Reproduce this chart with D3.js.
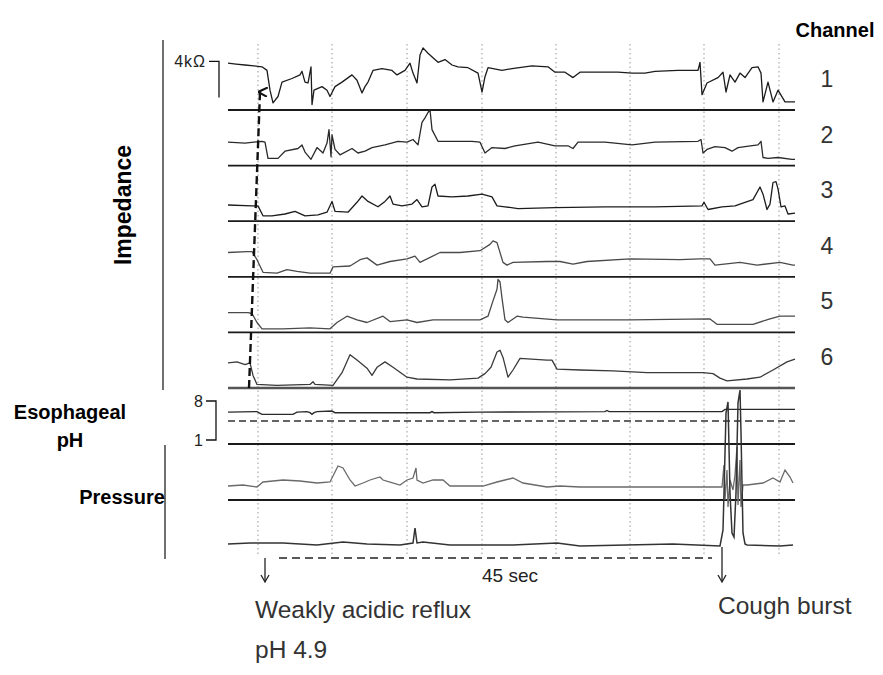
<!DOCTYPE html>
<html><head><meta charset="utf-8">
<script src="https://cdn.jsdelivr.net/npm/d3@7/dist/d3.min.js"></script>
<style>body{margin:0;background:#fff}svg{display:block;font-family:"Liberation Sans",Arial,sans-serif}</style>
</head><body><svg id="c" width="883" height="675"></svg>
<script>
// ---- data (time in seconds, impedance in kΩ, pH units, pressure in mmHg) ----
const channels = ["1","2","3","4","5","6"];
const timeExtent = [0, 56.7];
const gridTimes = [3.0, 10.4, 17.9, 25.4, 32.8, 40.2, 47.6, 55.1];
const refluxTime = 3.7, coughTime = 49.4;
const intervalLabel = "45 sec";
const scaleBarKOhm = 4, scaleBarBase = 1.4;
const phTicks = [8, 1];
const phRefLine = 4.4;

const imp1 = [[0,5.2],[0.8,5.1],[1.7,5.0],[2.6,4.9],[3.4,4.8],[3.9,4.4],[4.2,2.2],[4.5,0.8],[5.0,1.5],[5.4,3.1],[6.4,3.5],[7.2,3.9],[7.4,4.3],[7.7,3.1],[8.0,3.0],[8.3,4.8],[8.4,0.6],[8.6,2.2],[9.4,2.6],[9.9,2.2],[10.2,1.5],[10.7,2.6],[11.4,3.1],[12.4,3.9],[12.9,3.3],[13.4,1.9],[13.7,2.6],[14.0,3.1],[14.5,4.4],[15.4,4.6],[16.4,4.4],[16.9,3.9],[17.7,4.4],[18.2,5.2],[18.5,4.1],[18.9,3.0],[19.2,6.1],[19.5,6.9],[20.0,6.3],[20.5,5.8],[21.0,5.3],[21.7,5.6],[22.4,5.0],[23.0,4.8],[24.0,4.7],[25.0,4.1],[25.4,2.0],[25.7,3.7],[26.0,4.7],[27.4,4.4],[28.4,4.6],[30.4,4.9],[32.0,4.8],[32.7,4.2],[33.7,4.2],[34.5,3.6],[35.2,4.2],[37.0,4.2],[39.0,4.2],[40.4,4.1],[41.7,4.1],[42.7,4.3],[45.0,4.4],[47.0,4.4],[47.2,5.3],[47.4,1.7],[47.9,3.0],[49.0,3.6],[49.5,4.2],[49.8,2.0],[50.2,3.9],[50.7,3.1],[51.2,4.1],[51.7,3.6],[52.4,4.7],[53.0,4.8],[53.3,4.1],[53.5,0.9],[54.0,3.1],[54.5,0.9],[55.0,2.2],[55.7,0.9],[56.7,0.9]];
const imp2 = [[0,2.6],[1.7,2.5],[3.4,2.7],[3.7,2.6],[4.0,0.8],[5.0,0.8],[5.7,1.6],[7.0,1.9],[7.4,2.3],[7.7,1.5],[8.3,0.7],[8.9,2.0],[9.5,1.4],[9.9,2.5],[10.1,4.0],[10.3,1.0],[10.4,3.4],[10.7,1.8],[11.2,1.2],[12.4,1.9],[13.0,1.4],[13.7,1.6],[14.4,2.0],[15.7,2.3],[17.0,2.7],[17.9,2.6],[18.5,2.9],[19.0,2.3],[19.4,4.8],[19.7,5.3],[20.0,5.9],[20.2,6.2],[20.4,4.0],[21.0,2.7],[22.4,2.7],[24.4,2.7],[25.2,2.6],[25.7,1.4],[26.4,2.0],[27.7,1.9],[28.7,2.2],[31.0,2.6],[32.7,2.2],[34.0,2.2],[34.5,1.9],[35.0,2.6],[37.7,2.6],[40.4,2.3],[42.7,2.6],[47.0,2.7],[47.3,2.9],[47.5,1.4],[47.9,1.8],[48.7,2.1],[49.7,2.0],[50.4,1.6],[51.0,2.0],[51.7,2.1],[53.0,2.3],[53.3,2.7],[53.5,0.9],[54.0,0.8],[55.0,0.9],[56.4,0.7],[56.7,0.7]];
const imp3 = [[0,1.8],[2.4,1.7],[3.0,1.7],[3.5,0.6],[4.4,0.6],[5.7,0.8],[6.7,1.1],[7.7,0.6],[9.0,0.7],[9.9,1.0],[10.4,2.2],[10.7,1.1],[12.0,1.0],[12.9,2.1],[13.4,2.8],[14.0,2.2],[15.0,1.6],[15.7,2.2],[16.2,2.8],[16.5,1.9],[17.4,1.7],[18.4,1.9],[18.9,2.4],[19.4,1.6],[20.0,1.7],[20.4,3.8],[20.7,4.1],[21.0,2.8],[22.4,2.7],[24.0,2.8],[25.4,3.0],[26.4,2.7],[26.9,1.7],[27.7,1.6],[29.0,1.4],[32.7,1.5],[37.7,1.6],[42.7,1.6],[47.4,1.7],[47.6,2.1],[48.0,1.3],[49.4,1.6],[50.7,1.7],[51.7,2.1],[52.5,2.4],[53.2,3.8],[53.5,3.0],[53.9,1.3],[54.2,1.9],[54.5,4.3],[54.8,4.4],[55.0,3.6],[55.3,1.6],[55.7,1.7],[56.0,0.8],[56.7,0.9]];
const imp4 = [[0,2.7],[1.9,2.8],[2.4,2.8],[2.9,1.9],[3.5,0.5],[4.9,0.4],[5.9,0.8],[6.9,0.6],[8.2,0.4],[10.2,0.4],[10.5,1.1],[12.2,1.2],[13.2,1.9],[13.9,2.1],[14.9,1.3],[16.2,1.7],[17.9,2.0],[18.7,2.3],[19.2,1.6],[21.2,2.7],[23.2,2.7],[25.2,2.9],[26.2,3.6],[26.5,4.0],[26.9,3.8],[27.5,1.6],[27.9,1.3],[28.5,1.6],[31.9,1.7],[33.2,1.7],[34.5,1.4],[35.9,1.7],[40.2,2.0],[45.2,1.9],[47.2,2.0],[48.2,2.0],[48.7,1.3],[51.2,1.6],[52.9,1.3],[55.2,1.6],[56.5,1.3],[56.7,1.3]];
const imp5 = [[0,2.2],[2.0,2.2],[2.4,2.1],[2.9,1.1],[3.4,0.4],[5.5,0.4],[8.2,0.5],[10.2,0.4],[10.9,1.1],[11.9,1.8],[12.9,1.4],[13.9,1.1],[15.5,1.8],[16.2,1.2],[17.9,1.4],[18.9,1.1],[20.5,1.4],[23.9,1.4],[25.2,1.4],[26.0,1.8],[26.5,3.5],[26.9,4.8],[27.0,5.9],[27.2,5.6],[27.4,3.8],[27.7,1.4],[28.0,1.1],[28.9,1.8],[29.5,1.7],[32.9,1.4],[40.2,1.4],[48.2,1.5],[48.9,0.9],[52.5,0.9],[54.2,1.5],[55.2,1.8],[56.5,1.8],[56.7,1.8]];
const imp6 = [[0,2.8],[0.9,2.9],[1.7,2.6],[2.2,2.8],[2.5,1.4],[2.9,0.4],[4.9,0.3],[8.2,0.4],[8.5,0.7],[8.7,0.4],[10.5,0.3],[11.4,1.7],[12.2,3.7],[12.9,3.1],[13.9,2.2],[14.4,1.4],[14.9,2.3],[15.7,2.9],[16.5,2.3],[17.9,1.2],[18.9,1.0],[22.2,0.9],[25.0,1.1],[25.7,1.6],[26.3,2.3],[26.9,4.0],[27.2,4.2],[27.5,3.4],[28.0,1.2],[28.5,2.0],[29.2,3.3],[31.9,3.1],[32.4,3.1],[32.9,2.1],[35.2,2.0],[38.5,1.9],[41.9,1.7],[47.5,1.7],[48.5,1.6],[49.2,1.1],[49.9,0.8],[51.9,1.0],[53.2,1.2],[54.5,2.0],[55.9,2.9],[56.7,3.2]];
const impedance = [imp1, imp2, imp3, imp4, imp5, imp6];
const phTrace = [[0,6.0],[2.9,6.1],[3.4,5.6],[6.5,5.6],[6.9,6.0],[7.9,6.1],[8.2,5.9],[8.4,5.6],[8.6,5.9],[8.9,6.1],[10.4,6.2],[10.7,5.9],[20.2,5.9],[20.4,6.1],[20.6,5.9],[25.0,6.0],[37.7,6.1],[37.9,6.3],[38.1,6.1],[43.7,6.1],[49.4,6.1],[49.7,6.5],[56.7,6.5]];
const pressure1 = [[0,24],[1.5,25],[2.9,23],[3.5,28],[5.5,30],[7.2,29],[8.9,27],[10.2,28],[11.0,44],[11.5,42],[12.2,30],[12.7,24],[13.5,27],[14.2,30],[15.2,33],[15.5,30],[16.2,28],[17.2,25],[17.9,30],[18.5,32],[18.8,42],[18.9,30],[19.5,27],[20.5,30],[21.5,30],[22.2,24],[25.5,24],[26.9,28],[28.5,32],[29.5,27],[31.9,23],[33.2,24],[35.2,23],[40.2,23],[45.2,23],[49.2,23],[49.4,23],[49.6,45],[49.7,10],[49.9,40],[50.0,3],[50.2,30],[50.5,20],[50.7,35],[50.9,63],[51.0,5],[51.2,50],[51.3,3],[51.5,25],[51.9,25],[53.5,27],[54.5,32],[55.2,28],[55.7,40],[56.2,33],[56.5,27]];
const pressure2 = [[0,9],[2.2,10],[5.5,10],[8.9,8],[11.5,11],[13.9,9],[17.2,8],[18.5,10],[18.7,25],[18.9,10],[19.5,11],[22.2,8],[26.9,8],[28.5,8],[32.9,10],[35.2,7],[44.5,9],[49.2,7],[49.5,23],[49.6,60],[49.8,140],[50.0,151],[50.2,60],[50.4,20],[50.6,16],[50.8,60],[51.0,150],[51.2,163],[51.3,120],[51.5,20],[51.7,9],[51.9,8],[55.2,7],[56.5,8]];

// ---- layout ----
const svg = d3.select("#c");
svg.append("rect").attr("width",883).attr("height",675).attr("fill","#fff");
const x = d3.scaleLinear().domain(timeExtent).range([228, 795]);
const impBase = d3.scaleLinear().domain([0, 5]).range([110, 388]);
const impScales = channels.map((c,i) => { const b = impBase(i); return d3.scaleLinear().domain([0, 6]).range([b, b - 54]); });
const yPh = d3.scaleLinear().domain([1, 8]).range([440, 401]);
const yP1 = d3.scaleLinear().domain([0, 100]).range([510, 410]);
const yP2 = d3.scaleLinear().domain([0, 170]).range([553, 383]);

// grid lines
svg.append("g").selectAll("line").data(gridTimes).join("line")
  .attr("x1", d => x(d)).attr("x2", d => x(d)).attr("y1", 44).attr("y2", 556)
  .attr("stroke", "#a8a8a8").attr("stroke-width", 1.2).attr("stroke-dasharray", "1.5,3");

// baselines
const hline = (y, opts={}) => svg.append("line").attr("x1", x(timeExtent[0])).attr("x2", x(timeExtent[1]))
  .attr("y1", y).attr("y2", y).attr("stroke", opts.c || "#1a1a1a").attr("stroke-width", opts.w || 1.8)
  .attr("stroke-dasharray", opts.d || null);
channels.forEach((c,i) => hline(impBase(i), i === 5 ? {c:"#555", w:2.4} : {}));
hline(yPh(phRefLine), {d:"7,4", w:1.6, c:"#333"});
hline(444, {});
hline(500, {});

// traces
const line = (sy) => d3.line().x(d => x(d[0])).y(d => sy(d[1]));
const impColors = ["#1c1c1c","#2a2a2a","#1c1c1c","#4a4a4a","#4a4a4a","#3a3a3a"];
impedance.forEach((data, i) => {
  svg.append("path").datum(data).attr("d", line(impScales[i])).attr("fill","none")
    .attr("stroke", impColors[i]).attr("stroke-width", 1.3).attr("stroke-linejoin","round");
});
svg.append("path").datum(phTrace).attr("d", line(yPh)).attr("fill","none").attr("stroke","#2a2a2a").attr("stroke-width",1.4);
svg.append("path").datum(pressure1).attr("d", line(yP1)).attr("fill","none").attr("stroke","#6a6a6a").attr("stroke-width",1.3);
svg.append("path").datum(pressure2).attr("d", line(yP2)).attr("fill","none").attr("stroke","#333").attr("stroke-width",1.5);

// channel numbers
svg.append("text").attr("x", 835).attr("y", 37).attr("text-anchor","middle").attr("font-weight","bold")
  .attr("font-size", 20).text("Channel");
svg.append("g").selectAll("text").data(channels).join("text")
  .attr("x", 827).attr("y", (d,i) => impBase(i) - 23).attr("text-anchor","middle")
  .attr("font-size", 23).attr("fill","#333").text(d => d);

// 4 kΩ scale bar
const s1 = impScales[0];
svg.append("path").attr("d", `M209,${s1(scaleBarBase+scaleBarKOhm)}H219V${s1(scaleBarBase)}`)
  .attr("fill","none").attr("stroke","#111").attr("stroke-width",1.3);
svg.append("text").attr("x", 206).attr("y", s1(scaleBarBase+scaleBarKOhm)+6).attr("text-anchor","end")
  .attr("font-size", 16).attr("letter-spacing", 1).attr("fill","#222").text(scaleBarKOhm + "kΩ");

// pH bracket
svg.append("path").attr("d", `M206,${yPh(phTicks[0])}H216V${yPh(phTicks[1])}H206`)
  .attr("fill","none").attr("stroke","#111").attr("stroke-width",1.3);
svg.append("g").selectAll("text").data(phTicks).join("text")
  .attr("x", 203).attr("y", d => yPh(d) + 6).attr("text-anchor","end").attr("font-size", 16).attr("fill","#222").text(d => d);

// left labels
svg.append("line").attr("x1",163).attr("x2",163).attr("y1",40).attr("y2",390).attr("stroke","#222").attr("stroke-width",1.3);
svg.append("line").attr("x1",165).attr("x2",165).attr("y1",445).attr("y2",559).attr("stroke","#222").attr("stroke-width",1.3);
svg.append("text").attr("transform","translate(131,205) rotate(-90)").attr("text-anchor","middle")
  .attr("font-weight","bold").attr("font-size", 23).text("Impedance");
svg.append("text").attr("x", 70).attr("y", 419).attr("text-anchor","middle").attr("font-weight","bold").attr("font-size", 20).text("Esophageal");
svg.append("text").attr("x", 70).attr("y", 447).attr("text-anchor","middle").attr("font-weight","bold").attr("font-size", 20).text("pH");
svg.append("text").attr("x", 122).attr("y", 504).attr("text-anchor","middle").attr("font-weight","bold").attr("font-size", 20).text("Pressure");

// dashed arrow from channel 6 to channel 1
svg.append("defs").html('<marker id="ah" viewBox="0 0 10 10" refX="5" refY="2" markerWidth="4" markerHeight="4" orient="auto-start-reverse"><path d="M0,10 L5,0 L10,10" fill="none" stroke="#111" stroke-width="2.2"/></marker>');
svg.append("line").attr("x1", x(refluxTime) - 16).attr("y1", impBase(5)).attr("x2", x(refluxTime) - 5).attr("y2", 92)
  .attr("stroke","#111").attr("stroke-width",2.4).attr("stroke-dasharray","8,4").attr("marker-end","url(#ah)");

// 45 sec interval
svg.append("line").attr("x1", x(refluxTime)+14).attr("x2", x(coughTime)-10).attr("y1",558).attr("y2",558)
  .attr("stroke","#222").attr("stroke-width",1.6).attr("stroke-dasharray","8,5");
svg.append("text").attr("x", 510).attr("y", 582).attr("text-anchor","middle").attr("font-size", 19).attr("fill","#222").text(intervalLabel);

// down arrows
const arrow = (t, y1, y2) => {
  svg.append("line").attr("x1", x(t)).attr("x2", x(t)).attr("y1", y1).attr("y2", y2).attr("stroke","#222").attr("stroke-width",1.3);
  svg.append("path").attr("d", `M${x(t)-4},${y2-7}L${x(t)},${y2}L${x(t)+4},${y2-7}`).attr("fill","none").attr("stroke","#222").attr("stroke-width",1.3);
};
arrow(refluxTime, 558, 582);
arrow(coughTime, 547, 582);

svg.append("text").attr("x", 255).attr("y", 618).attr("font-size", 24.5).attr("fill","#333").text("Weakly acidic reflux");
svg.append("text").attr("x", 255).attr("y", 658).attr("font-size", 24.5).attr("fill","#333").text("pH 4.9");
svg.append("text").attr("x", 718).attr("y", 614).attr("font-size", 24.5).attr("fill","#333").text("Cough burst");
</script></body></html>
